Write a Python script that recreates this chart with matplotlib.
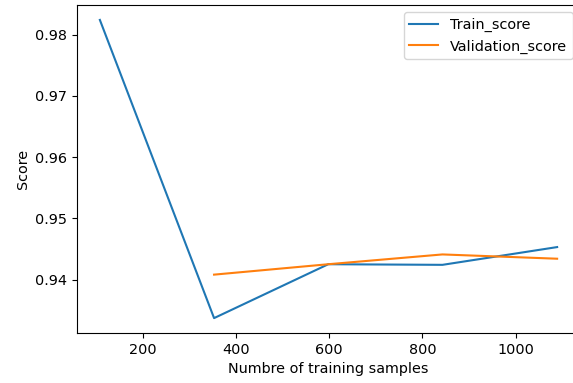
import numpy as np
import matplotlib
matplotlib.use("Agg")
import matplotlib.pyplot as plt

# learning curve values
train_sizes = [108, 353, 598, 843, 1089]
train_score = [0.9824, 0.9337, 0.9425, 0.9424, 0.9453]
val_sizes = [353, 598, 843, 1089]
val_score = [0.9408, 0.9425, 0.9441, 0.9434]

plt.rcParams["font.size"] = 10.4

fig = plt.figure(figsize=(5.73, 3.83), dpi=100)
# the reference is cropped on the right, so the axes runs a little past the edge
ax = fig.add_axes([0.1344, 0.1305, 0.8778, 0.8564])
ax.plot(train_sizes, train_score, label="Train_score", linewidth=1.5)
ax.plot(val_sizes, val_score, label="Validation_score", linewidth=1.5)
ax.set_xlabel("Numbre of training samples")
ax.set_ylabel("Score")
ax.set_yticks([0.94, 0.95, 0.96, 0.97, 0.98])
ax.legend(loc="upper right")

fig.savefig("out.png", dpi=100)
